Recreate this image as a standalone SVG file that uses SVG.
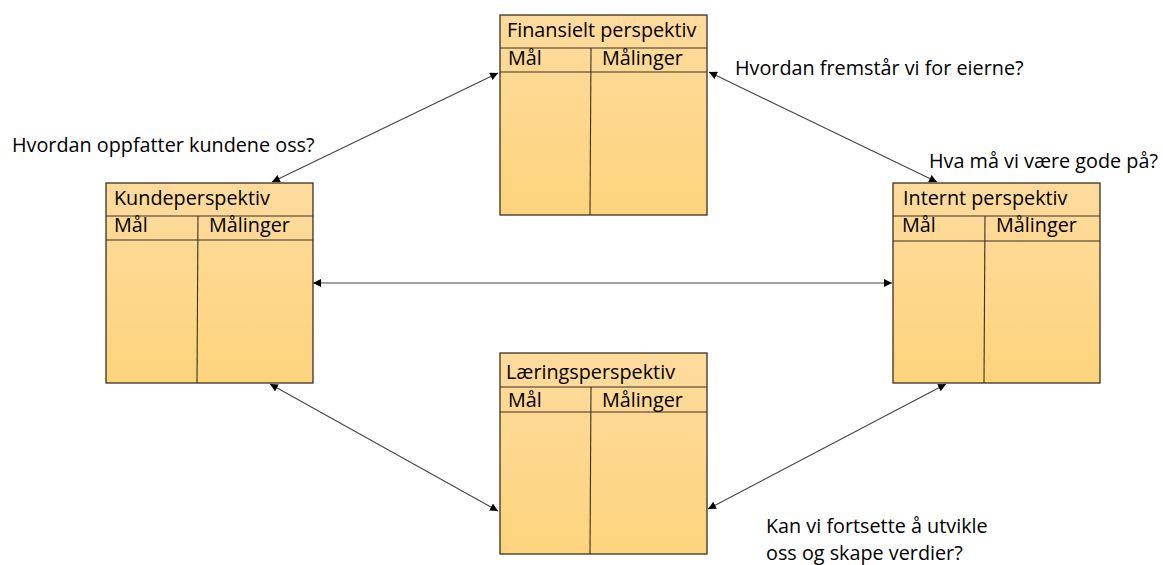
<svg xmlns="http://www.w3.org/2000/svg" width="1163" height="565" viewBox="0 0 1163 565">
  <defs>
    <linearGradient id="boxFill" x1="0" y1="0" x2="0" y2="1">
      <stop offset="0" stop-color="#FEDB9E"/>
      <stop offset="1" stop-color="#FDD47C"/>
    </linearGradient>
    <marker id="arrow" viewBox="0 0 10 10" refX="10" refY="5" markerWidth="8" markerHeight="8" markerUnits="userSpaceOnUse" orient="auto-start-reverse">
      <path d="M0,0 L10,5 L0,10 z" fill="#000"/>
    </marker>
  </defs>
  <style>
    text { font-family: "Open Sans", "Noto Sans", "Liberation Sans", sans-serif; fill: #000; }
    .lbl { font-size: 19.8px; }
    .hdr { font-size: 19.8px; }
    .box { fill: url(#boxFill); stroke: #3b3120; stroke-width: 1.3; }
    .rule { stroke: #3b3120; stroke-width: 1.1; fill: none; }
    .conn { stroke: #444; stroke-width: 1.1; fill: none; marker-start: url(#arrow); marker-end: url(#arrow); }
  </style>
  <rect width="1163" height="565" fill="#fff"/>

  <!-- connectors -->
  <g id="connectors">
    <line class="conn" x1="498" y1="73" x2="272" y2="182"/>
    <line class="conn" x1="709" y1="72" x2="937" y2="182"/>
    <line class="conn" x1="313" y1="283" x2="892" y2="283"/>
    <line class="conn" x1="270" y1="384" x2="498" y2="511"/>
    <line class="conn" x1="946" y1="384" x2="708" y2="509"/>
  </g>

  <!-- Financial perspective -->
  <g id="finansielt">
    <rect class="box" x="500" y="15" width="207" height="200"/>
    <line class="rule" x1="500" y1="48" x2="707" y2="48"/>
    <line class="rule" x1="500" y1="72" x2="707" y2="72"/>
    <line class="rule" x1="591" y1="48" x2="590" y2="215"/>
    <text class="hdr" x="507" y="37">Finansielt perspektiv</text>
    <text class="hdr" x="508" y="65">Mål</text>
    <text class="hdr" x="602" y="65">Målinger</text>
  </g>

  <!-- Customer perspective -->
  <g id="kunde">
    <rect class="box" x="106" y="183" width="207" height="200"/>
    <line class="rule" x1="106" y1="216" x2="313" y2="216"/>
    <line class="rule" x1="106" y1="240" x2="313" y2="240"/>
    <line class="rule" x1="198" y1="216" x2="197" y2="383"/>
    <text class="hdr" x="114" y="205">Kundeperspektiv</text>
    <text class="hdr" x="114" y="232">Mål</text>
    <text class="hdr" x="209" y="232">Målinger</text>
  </g>

  <!-- Internal perspective -->
  <g id="internt">
    <rect class="box" x="893" y="183" width="207" height="200"/>
    <line class="rule" x1="893" y1="216" x2="1100" y2="216"/>
    <line class="rule" x1="893" y1="241" x2="1100" y2="241"/>
    <line class="rule" x1="985" y1="216" x2="984" y2="383"/>
    <text class="hdr" x="903" y="205">Internt perspektiv</text>
    <text class="hdr" x="902" y="232">Mål</text>
    <text class="hdr" x="996" y="232">Målinger</text>
  </g>

  <!-- Learning perspective -->
  <g id="laering">
    <rect class="box" x="500" y="353" width="207" height="201"/>
    <line class="rule" x1="500" y1="387" x2="707" y2="387"/>
    <line class="rule" x1="500" y1="412" x2="707" y2="412"/>
    <line class="rule" x1="591" y1="387" x2="590" y2="554"/>
    <text class="hdr" x="506" y="378.5">Læringsperspektiv</text>
    <text class="hdr" x="508" y="406.5">Mål</text>
    <text class="hdr" x="602" y="406.5">Målinger</text>
  </g>

  <!-- guiding questions -->
  <g id="questions">
    <text class="lbl" x="735" y="75">Hvordan fremstår vi for eierne?</text>
    <text class="lbl" x="12" y="152">Hvordan oppfatter kundene oss?</text>
    <text class="lbl" x="929" y="168">Hva må vi være gode på?</text>
    <text class="lbl" x="766" y="533">Kan vi fortsette å utvikle</text>
    <text class="lbl" x="766" y="560">oss og skape verdier?</text>
  </g>
</svg>
